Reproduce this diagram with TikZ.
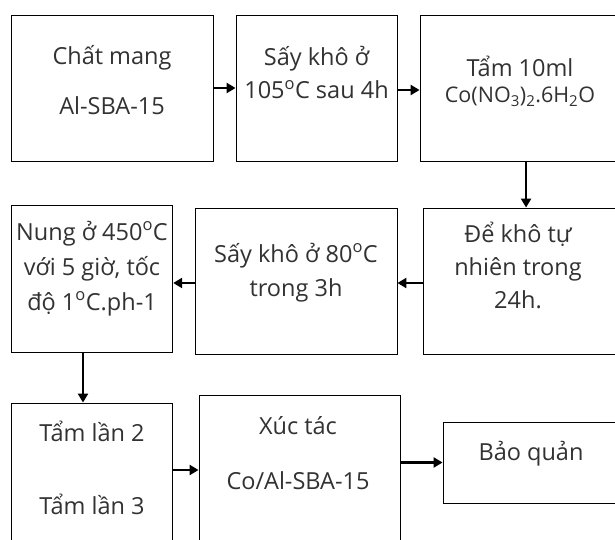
\documentclass[tikz,border=0pt]{standalone}
\usepackage{fontspec}
\setmainfont{Open Sans}
\usetikzlibrary{arrows.meta,positioning}
\definecolor{inkgray}{RGB}{50,50,50}

\begin{document}
\begin{tikzpicture}[
    x=1pt,y=-1pt,
    stepbox/.style={rectangle,draw=black,line width=0.9pt,inner sep=0pt},
    steptext/.style={align=center,inner sep=0pt,anchor=base,text=inkgray,
      font=\fontsize{23.5}{#1}\selectfont},
    steptext/.default=32,
    arrow/.style={-{Triangle[length=9pt,width=10pt]},line width=2.8pt}
  ]
    \useasboundingbox (0,0) rectangle (615,540);
    \fill[white] (0,0) rectangle (615,540);
    \clip (0,0) rectangle (615,540);

    % row 1
    \node[stepbox,minimum width=202pt,minimum height=146pt] (carrier) at (112,88) {};
    \node[stepbox,minimum width=161pt,minimum height=146pt] (dry1) at (316.5,88) {};
    \node[stepbox,minimum width=280pt,minimum height=146pt] (impreg) at (560,88) {};
    % text anchors sit on the last line
    \node[steptext=50] (carriert) at (112,115) {Chất mang\\Al-SBA-15};
    \node[steptext=33] (dry1t) at (316.5,99) {Sấy khô ở\\105\textsuperscript{o}C sau 4h};
    \node[steptext=26] (impregt) at (520,103)
      {Tẩm 10ml\\{\fontsize{21.5}{26}\selectfont Co(NO\textsubscript{3})\textsubscript{2}.6H\textsubscript{2}O}};

    % row 2
    \node[stepbox,minimum width=161.5pt,minimum height=147pt] (calcine) at (92,279) {};
    \node[stepbox,minimum width=202pt,minimum height=146pt] (dry2) at (296,281) {};
    \node[stepbox,minimum width=277pt,minimum height=146pt] (airdry) at (561.5,281) {};
    \node[steptext=35] (calcinet) at (92,310)
      {Nung ở 450\textsuperscript{o}C\\với 5 giờ, tốc\\độ 1\textsuperscript{o}C.ph-1};
    \node[steptext=34] (dry2t) at (296,296) {Sấy khô ở 80\textsuperscript{o}C\\trong 3h};
    \node[steptext=33] (airdryt) at (518,308) {Để khô tự\\nhiên trong\\24h.};

    % row 3
    \node[stepbox,minimum width=161.5pt,minimum height=157pt] (again) at (92,481.5) {};
    \node[stepbox,minimum width=201pt,minimum height=165pt] (catalyst) at (299.5,477.5) {};
    \node[stepbox,minimum width=257pt,minimum height=81pt] (store) at (571.5,462.5) {};
    \node[steptext=73] (againt) at (92,514) {Tẩm lần 2\\Tẩm lần 3};
    \node[steptext=55] (catalystt) at (298,489) {Xúc tác\\Co/Al-SBA-15};
    \node[steptext] (storet) at (531,460) {Bảo quản};

    \draw[arrow] (carrier.east) -- (dry1.west);
    \draw[arrow] ([yshift=-2pt]dry1.east) -- ([yshift=-2pt]impreg.west);
    \draw[arrow] ([xshift=106.5pt]impreg.south west) -- ([xshift=103.5pt]airdry.north west);
    \draw[arrow] ([yshift=-2pt]airdry.west) -- ([yshift=-2pt]dry2.east);
    \draw[arrow] ([yshift=-2pt]dry2.west) -- ([yshift=-2pt]dry2.west -| calcine.east);
    \draw[arrow] ([xshift=-9pt]calcine.south) -- ([xshift=-9pt]again.north);
    \draw[arrow] ([yshift=11.5pt]again.east) -- ([yshift=11.5pt]again.east -| catalyst.west);
    \draw[arrow] (catalyst.east |- store.west) -- (store.west);
  \end{tikzpicture}
\end{document}
